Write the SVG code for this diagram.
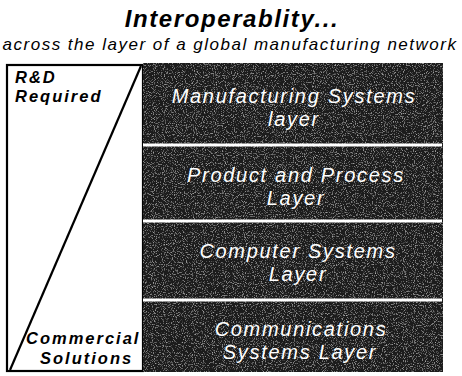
<svg xmlns="http://www.w3.org/2000/svg" width="462" height="376" viewBox="0 0 462 376">
<style>
.title{font-family:"Liberation Sans",Arial,sans-serif;font-weight:bold;font-style:italic;font-size:24px;letter-spacing:1.6px;fill:#000}
.sub{font-family:"Liberation Sans",Arial,sans-serif;font-style:italic;font-size:17px;letter-spacing:1.5px;fill:#000}
.lbl{font-family:"Liberation Sans",Arial,sans-serif;font-weight:bold;font-style:italic;font-size:16.5px;letter-spacing:2px;fill:#000}
.lay{font-family:"Liberation Sans",Arial,sans-serif;font-style:italic;font-size:20px;letter-spacing:1.7px;fill:#fff;text-anchor:middle}
.sep{stroke:#fff;stroke-width:3}
</style>
<defs>
<filter id="grain" x="0" y="0" width="100%" height="100%">
<feTurbulence type="fractalNoise" baseFrequency="0.9" numOctaves="2" seed="3" result="n"/>
<feColorMatrix in="n" type="matrix" values="0 0 0 0 0.55  0 0 0 0 0.55  0 0 0 0 0.55  0 0 0 2.2 -1.2" result="s"/>
<feComposite in="s" in2="SourceGraphic" operator="in" result="sp"/>
<feMerge><feMergeNode in="SourceGraphic"/><feMergeNode in="sp"/></feMerge>
</filter>
</defs>
<g id="title">
<text class="title" x="232" y="27" text-anchor="middle">Interoperablity...</text>
<text class="sub" x="230" y="50" text-anchor="middle">across the layer of a global manufacturing network</text>
</g>
<g id="left-panel">
<rect x="7" y="65" width="136" height="306" fill="#fff" stroke="#000" stroke-width="2.2"/>
<line x1="141" y1="66" x2="10" y2="370" stroke="#000" stroke-width="2.2"/>
<text class="lbl" x="15" y="83">R&amp;D</text>
<text class="lbl" x="15" y="102">Required</text>
<text class="lbl" x="26" y="344">Commercial</text>
<text class="lbl" x="40" y="364">Solutions</text>
</g>
<g id="layers">
<rect x="143" y="63" width="300" height="309" fill="#1c1c1c" filter="url(#grain)"/>
<g id="connectors">
<line class="sep" x1="143" y1="145" x2="442" y2="145"/>
<line class="sep" x1="143" y1="221" x2="442" y2="221"/>
<line class="sep" x1="143" y1="300" x2="442" y2="300"/>
</g>
<g id="manufacturing">
<text class="lay" x="294" y="103">Manufacturing Systems</text>
<text class="lay" x="294" y="126">layer</text>
</g>
<g id="product">
<text class="lay" x="296" y="182">Product and Process</text>
<text class="lay" x="296" y="205">Layer</text>
</g>
<g id="computer">
<text class="lay" x="298" y="258">Computer Systems</text>
<text class="lay" x="298" y="281">Layer</text>
</g>
<g id="communications">
<text class="lay" x="301" y="336">Communications</text>
<text class="lay" x="300" y="359">Systems Layer</text>
</g>
</g>
</svg>
